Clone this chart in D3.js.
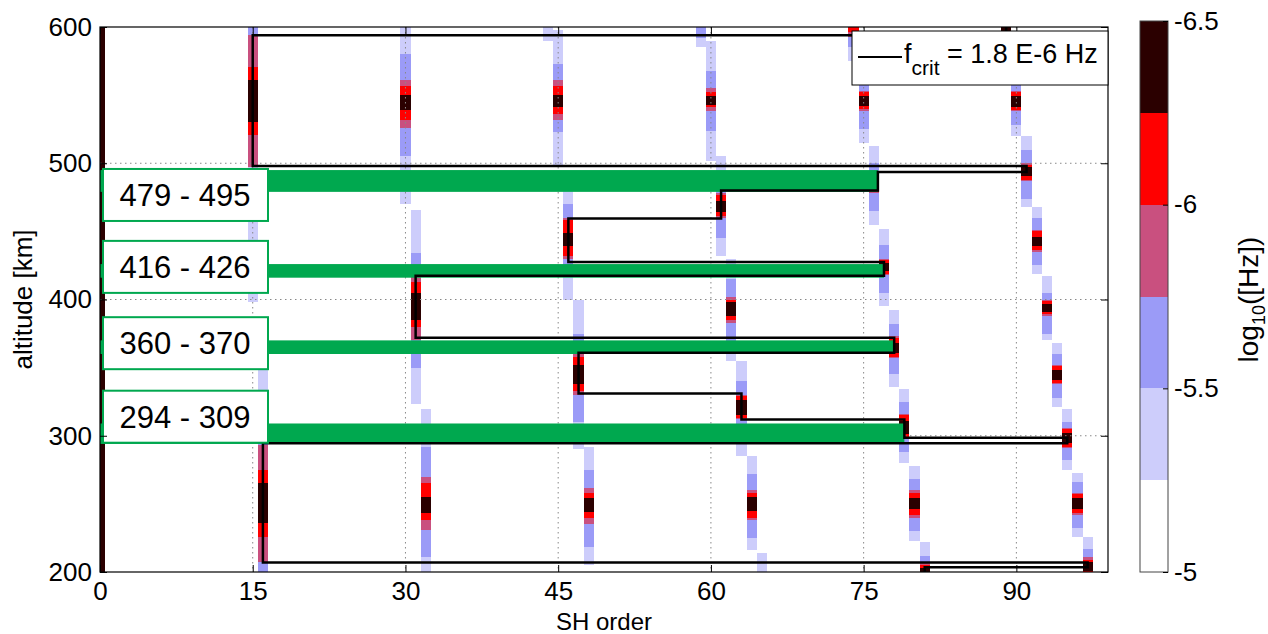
<!DOCTYPE html>
<html>
<head>
<meta charset="utf-8">
<title>Resonance orders</title>
<script src="https://d3js.org/d3.v7.min.js"></script>
<style>
  body { margin: 0; background: white; }
  .canvas { font-family: "Liberation Sans", Arial, sans-serif; background: white; }
</style>
</head>
<body>
<svg class="canvas" width="1268" height="634"></svg>
<script>
// ticks
const xTicks = [0, 15, 30, 45, 60, 75, 90];
const yTicks = [200, 300, 400, 500, 600];
const colorTicks = [-6.5, -6, -5.5, -5];
// class edges of the colour map, log10([Hz])
const colorEdges = [-6.5, -6.25, -6, -5.75, -5.5, -5.25, -5];

// resonance streaks: SH order and altitude spans [lo, hi] (km) where log10 f is
// below -5.25, -5.5, -5.75, -6, -6.25
const streaks = [
  { order: 0,  spans: [null, null, [200, 600], [200, 600], [200, 600]] },
  { order: 15, spans: [[398, 600], [497, 600], [497, 594], [521, 571], [530, 561]] },
  { order: 16, spans: [[200, 350], [200, 300], [207, 293], [226, 275], [236, 265]] },
  { order: 30, spans: [[470, 600], [505, 580], [526, 561], [532, 557], [539, 550]] },
  { order: 31, spans: [[323, 466], [350, 434], [370, 420], [380, 413], [385, 405]] },
  { order: 32, spans: [[200, 320], [211, 292], [231, 270], [238, 265], [243, 255]] },
  { order: 44, spans: [[590, 600], null, null, null, null] },
  { order: 45, spans: [[498, 598], [523, 573], [532, 561], [536, 557], [541, 550]] },
  { order: 46, spans: [[400, 485], [420, 470], [430, 460], [432, 458], [439, 449]] },
  { order: 47, spans: [[290, 400], [310, 375], [330, 362], [333, 358], [338, 352]] },
  { order: 48, spans: [[205, 292], [218, 275], [235, 262], [240, 258], [244, 254]] },
  { order: 59, spans: [[585, 600], [592, 600], null, null, null] },
  { order: 60, spans: [[502, 590], [524, 568], [538, 555], [541, 552], [543, 549]] },
  { order: 61, spans: [[432, 505], [445, 490], [460, 478], [461, 477], [464, 472]] },
  { order: 62, spans: [[355, 430], [368, 415], [383, 402], [385, 400], [388, 398]] },
  { order: 63, spans: [[285, 355], [295, 340], [312, 330], [313, 329], [315, 326]] },
  { order: 64, spans: [[216, 285], [225, 272], [238, 260], [240, 258], [245, 255]] },
  { order: 65, spans: [[200, 214], null, null, null, null] },
  { order: 74, spans: [[575, 600], [585, 600], [593, 600], [596, 600], null] },
  { order: 75, spans: [[515, 575], [525, 565], [538, 553], [540, 552], [542, 549]] },
  { order: 76, spans: [[455, 513], [465, 500], [478, 490], [479, 489], [481, 487]] },
  { order: 77, spans: [[395, 452], [405, 440], [418, 430], [419, 429], [421, 427]] },
  { order: 78, spans: [[336, 392], [345, 382], [357, 373], [358, 372], [361, 368]] },
  { order: 79, spans: [[280, 334], [288, 325], [298, 316], [299, 315], [301, 311]] },
  { order: 80, spans: [[223, 278], [230, 268], [240, 260], [242, 258], [246, 254]] },
  { order: 81, spans: [[200, 222], [200, 212], [200, 207], [200, 205], [200, 203]] },
  { order: 89, spans: [[570, 600], [578, 600], [586, 600], [588, 600], [590, 600]] },
  { order: 90, spans: [[520, 570], [528, 562], [538, 553], [539, 552], [541, 549]] },
  { order: 91, spans: [[468, 520], [474, 510], [487, 500], [488, 499], [491, 497]] },
  { order: 92, spans: [[419, 468], [425, 460], [435, 451], [436, 450], [439, 446]] },
  { order: 93, spans: [[370, 417], [375, 405], [388, 400], [389, 399], [391, 397]] },
  { order: 94, spans: [[321, 368], [328, 360], [338, 352], [339, 351], [341, 348]] },
  { order: 95, spans: [[275, 320], [282, 310], [291, 306], [292, 305], [295, 302]] },
  { order: 96, spans: [[226, 273], [232, 266], [242, 258], [243, 257], [246, 254]] },
  { order: 97, spans: [[200, 226], [200, 217], [200, 211], [200, 209], [201, 207]] }
];

// f = f_crit contour, [SH order, altitude km]
const critContour = [
  [89, 600], [89, 594], [15, 594], [15, 498], [91, 498], [91, 493.6], [76.4, 493.6],
  [76.4, 480], [61, 480], [61, 459.5], [46, 459.5], [46, 427.5], [77, 427.5],
  [77, 417.5], [31, 417.5], [31, 372], [78, 372], [78, 361], [47, 361], [47, 331],
  [63, 331], [63, 312], [79, 312], [79, 298.5], [95, 298.5], [95, 294.5],
  [16, 294.5], [16, 207], [97, 207], [97, 203.5], [81, 203.5], [81, 200]
];

// highlighted altitude bands and the order where each one stops
const bandRanges = [[479, 495], [416, 426], [360, 370], [294, 309]];
const bandEndOrder = [76.4, 77, 78, 79];
const bandLabels = ["479 - 495", "416 - 426", "360 - 370", "294 - 309"];

const svg = d3.select('.canvas');
const plotL = 100, plotR = 1108, plotT = 27, plotB = 572;

const x = d3.scaleLinear().domain([0, 99]).range([plotL, plotR]);
const y = d3.scaleLinear().domain([200, 600]).range([plotB, plotT]);

const classColors = ['#2b0000', '#ff0000', '#c9507f', '#9b9bf7', '#cdcdfb', '#ffffff'];
const color = d3.scaleThreshold().domain(colorEdges.slice(1, -1)).range(classColors);
const levelValue = i => (colorEdges[5 - i] + colorEdges[4 - i]) / 2;

svg.append('clipPath').attr('id', 'clip')
  .append('rect').attr('x', plotL).attr('y', plotT)
  .attr('width', plotR - plotL).attr('height', plotB - plotT);

const plot = svg.append('g').attr('clip-path', 'url(#clip)');

// heat map cells
const cells = [];
streaks.forEach(s => s.spans.forEach((sp, i) => {
  if (sp) cells.push({ order: s.order, lo: sp[0], hi: sp[1], level: i });
}));

plot.selectAll('.cell')
  .data(cells)
  .enter()
  .append('rect')
  .attr('class', 'cell')
  .attr('x', d => x(d.order - 0.5))
  .attr('width', x(1) - x(0))
  .attr('y', d => y(d.hi))
  .attr('height', d => y(d.lo) - y(d.hi))
  .attr('fill', d => color(levelValue(d.level)))
  .attr('shape-rendering', 'crispEdges');

// dotted grid
plot.selectAll('.vgrid')
  .data(xTicks.slice(1))
  .enter()
  .append('line')
  .attr('x1', d => x(d)).attr('x2', d => x(d))
  .attr('y1', plotT).attr('y2', plotB)
  .attr('stroke', '#888').attr('stroke-width', 1)
  .attr('stroke-dasharray', '1.5,3.5');

plot.selectAll('.hgrid')
  .data(yTicks.slice(1, -1))
  .enter()
  .append('line')
  .attr('x1', plotL).attr('x2', plotR)
  .attr('y1', d => y(d)).attr('y2', d => y(d))
  .attr('stroke', '#888').attr('stroke-width', 1)
  .attr('stroke-dasharray', '1.5,3.5');

// green altitude bands
plot.selectAll('.band')
  .data(bandRanges)
  .enter()
  .append('rect')
  .attr('x', x(0))
  .attr('width', (d, i) => x(bandEndOrder[i]) - x(0))
  .attr('y', d => y(d[1]))
  .attr('height', d => y(d[0]) - y(d[1]))
  .attr('fill', '#00a84f');

// contour
plot.append('path')
  .datum(critContour)
  .attr('d', d3.line().x(d => x(d[0])).y(d => y(d[1])))
  .attr('fill', 'none')
  .attr('stroke', '#000')
  .attr('stroke-width', 2.5);

// band label boxes (vertical nudge in px, as placed in the figure)
const labelShift = [14, -4, -4, -17];
const boxes = svg.selectAll('.lbl')
  .data(bandRanges)
  .enter()
  .append('g')
  .attr('transform', (d, i) => `translate(103,${(y(d[0]) + y(d[1])) / 2 + labelShift[i] - 26})`);

boxes.append('rect')
  .attr('width', 165).attr('height', 52)
  .attr('fill', 'white')
  .attr('stroke', '#00a84f').attr('stroke-width', 2);

boxes.append('text')
  .attr('x', 82).attr('y', 37)
  .attr('text-anchor', 'middle')
  .style('font-size', '31px')
  .text((d, i) => bandLabels[i]);

// axes frame and ticks
svg.append('rect')
  .attr('x', plotL).attr('y', plotT)
  .attr('width', plotR - plotL).attr('height', plotB - plotT)
  .attr('fill', 'none').attr('stroke', '#000').attr('stroke-width', 1.2);

svg.append('g')
  .attr('transform', `translate(0,${plotB})`)
  .call(d3.axisBottom(x).tickValues(xTicks).tickSizeInner(-7).tickSizeOuter(0).tickPadding(10));
svg.append('g')
  .attr('transform', `translate(0,${plotT})`)
  .call(d3.axisTop(x).tickValues(xTicks).tickSizeInner(-7).tickSizeOuter(0).tickFormat(''));
svg.append('g')
  .attr('transform', `translate(${plotL},0)`)
  .call(d3.axisLeft(y).tickValues(yTicks).tickSizeInner(-7).tickSizeOuter(0).tickPadding(8));
svg.append('g')
  .attr('transform', `translate(${plotR},0)`)
  .call(d3.axisRight(y).tickValues(yTicks).tickSizeInner(-7).tickSizeOuter(0).tickFormat(''));

svg.selectAll('.domain').remove();
svg.selectAll('.tick line').attr('stroke', '#000');
svg.selectAll('.tick text')
  .attr('fill', '#000')
  .style('font-family', '"Liberation Sans", Arial, sans-serif')
  .style('font-size', '26px');

// axis titles
svg.append('text')
  .attr('x', (plotL + plotR) / 2).attr('y', 630)
  .attr('text-anchor', 'middle')
  .style('font-size', '24px')
  .text('SH order');

svg.append('text')
  .attr('transform', `translate(32,${(plotT + plotB) / 2}) rotate(-90)`)
  .attr('text-anchor', 'middle')
  .style('font-size', '26px')
  .text('altitude [km]');

// legend
const leg = svg.append('g').attr('transform', 'translate(852,31)');
leg.append('rect')
  .attr('width', 256).attr('height', 54)
  .attr('fill', 'white').attr('stroke', '#000').attr('stroke-width', 1);
leg.append('line')
  .attr('x1', 6).attr('x2', 50).attr('y1', 26).attr('y2', 26)
  .attr('stroke', '#000').attr('stroke-width', 2);
const legText = leg.append('text').attr('x', 52).attr('y', 32).style('font-size', '27px');
legText.append('tspan').text('f');
legText.append('tspan').attr('dy', 12).style('font-size', '21px').text('crit');
legText.append('tspan').attr('dy', -12).text(' = 1.8 E-6 Hz');

// colour bar
const cbX = 1140, cbW = 28;
const cb = d3.scaleLinear().domain([-6.5, -5]).range([21, plotB]);

svg.selectAll('.cb')
  .data(d3.pairs(colorEdges))
  .enter()
  .append('rect')
  .attr('x', cbX).attr('width', cbW)
  .attr('y', d => cb(d[0]))
  .attr('height', d => cb(d[1]) - cb(d[0]))
  .attr('fill', d => color((d[0] + d[1]) / 2))
  .attr('shape-rendering', 'crispEdges');

svg.append('rect')
  .attr('x', cbX).attr('y', cb(-6.5))
  .attr('width', cbW).attr('height', cb(-5) - cb(-6.5))
  .attr('fill', 'none').attr('stroke', '#444').attr('stroke-width', 1);

const cbAxis = svg.append('g')
  .attr('transform', `translate(${cbX + cbW},0)`)
  .call(d3.axisRight(cb).tickValues(colorTicks).tickSizeInner(-5).tickSizeOuter(0).tickPadding(6)
    .tickFormat(d => String(d)));
cbAxis.select('.domain').remove();
cbAxis.selectAll('.tick line').attr('stroke', '#000');
cbAxis.selectAll('.tick text')
  .attr('fill', '#000')
  .style('font-family', '"Liberation Sans", Arial, sans-serif')
  .style('font-size', '26px');

const cbTitle = svg.append('text')
  .attr('transform', `translate(1258,${(plotT + plotB) / 2}) rotate(-90)`)
  .attr('text-anchor', 'middle')
  .style('font-size', '28px');
cbTitle.append('tspan').text('log');
cbTitle.append('tspan').attr('dy', 7).style('font-size', '18px').text('10');
cbTitle.append('tspan').attr('dy', -7).text('([Hz])');
</script>
</body>
</html>
